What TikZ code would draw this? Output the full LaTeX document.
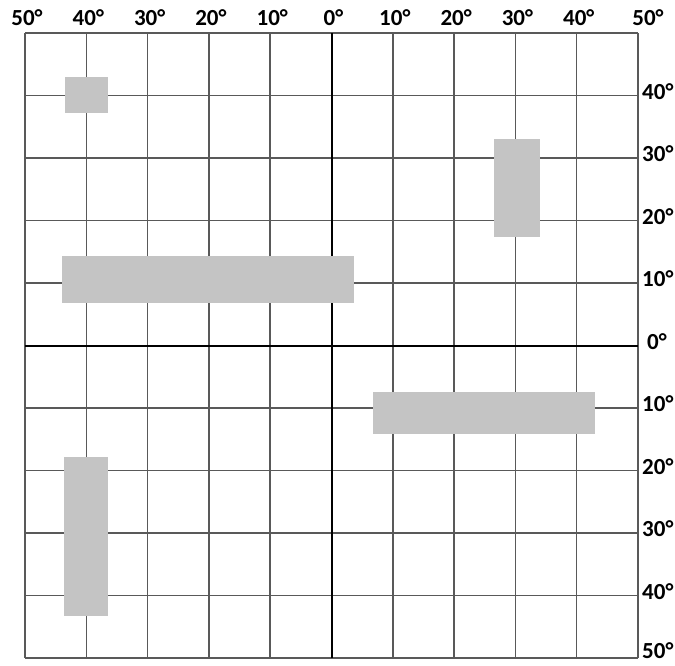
\documentclass[tikz,border=0pt]{standalone}
\usepackage{fontspec}
\setmainfont{Carlito}
\begin{document}
\begin{tikzpicture}[x=1pt,y=-1pt,
  gridline/.style={draw=black!65,line width=1.5pt},
  axisline/.style={draw=black,line width=2pt},
  block/.style={fill=black!23,draw=none},
  toplab/.style={font=\bfseries\fontsize{23}{23}\selectfont,anchor=center,inner sep=0pt},
  rightlab/.style={font=\bfseries\fontsize{23}{23}\selectfont,anchor=west,inner sep=0pt}]
\useasboundingbox (0,0) rectangle (675,665);
% grid
\foreach \i in {0,...,10} {
  \draw[gridline] ({25+\i*61.3},33) -- ({25+\i*61.3},658);
  \draw[gridline] (25,{33+\i*62.5}) -- (638,{33+\i*62.5});
}
% axes
\draw[axisline] (331.5,33) -- (331.5,658);
\draw[axisline] (25,345.5) -- (638,345.5);
% blocks
\fill[block] (65,77) rectangle (108,113);
\fill[block] (494,139) rectangle (540,237);
\fill[block] (62,256) rectangle (354,303);
\fill[block] (373,392) rectangle (595,434);
\fill[block] (64,457) rectangle (108,616);
% top labels
\foreach \t [count=\k from 0] in {50,40,30,20,10,0,10,20,30,40} {
  \node[toplab] (t\k) at ({27+\k*61.3},18) {\t°};
}
\node[toplab] (t10) at (648,18) {50°};
% right labels
\foreach \t [count=\k from 1] in {40,30,20,10} {
  \node[rightlab] (r\k) at (642,{29+\k*62.5}) {\t°};
}
\node[rightlab] (r5) at (647,341.5) {0°};
\foreach \t [count=\k from 6] in {10,20,30,40} {
  \node[rightlab] (r\k) at (642,{29+\k*62.5}) {\t°};
}
\node[rightlab] (r10) at (642,651) {50°};
\end{tikzpicture}
\end{document}
